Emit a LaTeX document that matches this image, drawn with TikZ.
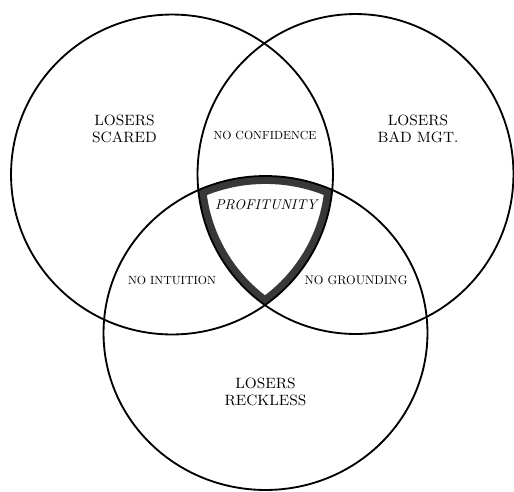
\documentclass[tikz,border=0pt]{standalone}
\usepackage{graphicx}
\newcommand\fitto[2]{\resizebox{#1}{!}{\fontsize{10}{12}\selectfont #2}}
\begin{document}
\begin{tikzpicture}[x=0.02cm,y=-0.02cm,
  ring/.style={line width=1.05pt,black},
  band/.style={line width=9pt,black!78},
  big/.style={font=\fontsize{8.5}{9.3}\selectfont,align=center,inner sep=0pt},
  small/.style={inner sep=0pt},
  prof/.style={inner sep=0pt}]
\useasboundingbox[fill=white] (0,0) rectangle (514,491);
\def\Lc{(172,174.5) ellipse [x radius=3.22cm, y radius=3.20cm]}
\def\Rc{(355.5,174) ellipse [x radius=3.16cm, y radius=3.20cm]}
\def\Bc{(265.5,333) ellipse [x radius=3.24cm, y radius=3.14cm]}
% thick border of the common region
\begin{scope}
  \clip \Lc;
  \clip \Rc;
  \clip \Bc;
  \draw[band] \Lc;
  \draw[band] \Rc;
  \draw[band] \Bc;
\end{scope}
\draw[ring] \Lc;
\draw[ring] \Rc;
\draw[ring] \Bc;
\node[big] (scared) at (124.5,129) {LOSERS\\SCARED};
\node[big] (badmgt) at (418,129) {LOSERS\\BAD MGT.};
\node[big] (reckless) at (265.5,392) {LOSERS\\RECKLESS};
\node[small] (conf) at (265,135) {\fitto{2.06cm}{NO CONFIDENCE}};
\node[small] (intu) at (172,280) {\fitto{1.76cm}{NO INTUITION}};
\node[small] (ground) at (356,280) {\fitto{2.06cm}{NO GROUNDING}};
\node[prof] (profit) at (266,205) {\fitto{2.04cm}{\itshape PROFITUNITY}};
\end{tikzpicture}
\end{document}
